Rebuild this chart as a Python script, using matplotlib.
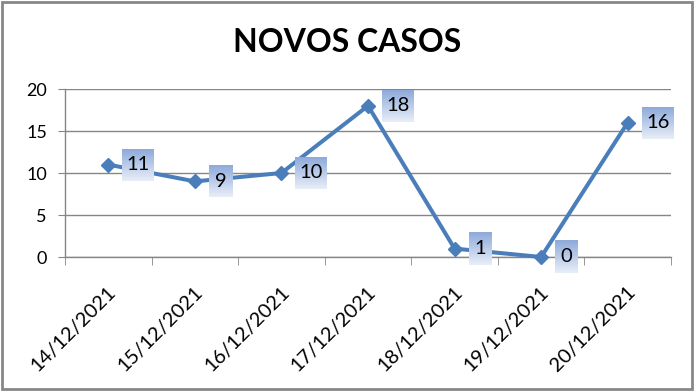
import numpy as np
import matplotlib
matplotlib.use('Agg')
import matplotlib.pyplot as plt
import matplotlib.transforms as mtransforms
from matplotlib.patches import Rectangle

# data
dates = ['14/12/2021', '15/12/2021', '16/12/2021', '17/12/2021',
         '18/12/2021', '19/12/2021', '20/12/2021']
novos_casos = [11, 9, 10, 18, 1, 0, 16]
yticks = [0, 5, 10, 15, 20]

line_color = '#4a7ebb'
grid_color = '#868686'
plt.rcParams['font.family'] = ['Lato', 'DejaVu Sans']

fig = plt.figure(figsize=(6.94, 3.91), dpi=100)
ax = fig.add_axes([65/694, 1 - 257/391, (671 - 65)/694, (257 - 89)/391])

x = np.arange(len(dates))
ax.plot(x, novos_casos, color=line_color, lw=2.9, marker='D', ms=7.5,
        mfc=line_color, mec=line_color, zorder=3, clip_on=False)

ax.set_xlim(-0.5, len(dates) - 0.5)
ax.set_ylim(0, 20)
ax.set_yticks(yticks)
ax.yaxis.grid(True, color=grid_color, lw=1)
ax.set_axisbelow(True)
for s in ['top', 'right']:
    ax.spines[s].set_visible(False)
for s in ['left', 'bottom']:
    ax.spines[s].set_color(grid_color)
    ax.spines[s].set_linewidth(1)

ax.tick_params(axis='y', length=5, color=grid_color, pad=8, labelsize=13)
ax.set_xticks(x)
ax.set_xticks(np.arange(-0.5, len(dates)), minor=True)
ax.tick_params(axis='x', which='major', length=0, pad=23, labelsize=14.5)
ax.tick_params(axis='x', which='minor', length=6, color=grid_color)
ax.set_xticklabels(dates, rotation=45, ha='right', va='center',
                   rotation_mode='anchor')
offset = mtransforms.ScaledTranslation(5/100, 0, fig.dpi_scale_trans)
for lab in ax.get_xticklabels():
    lab.set_transform(lab.get_transform() + offset)

# data labels with gradient boxes
grad = np.linspace(0, 1, 64).reshape(-1, 1)
cmap = matplotlib.colors.LinearSegmentedColormap.from_list(
    'lbl', ['#8eaadb', '#e8eef8'])
inv = ax.transData.inverted()
for xi, v in zip(x, novos_casos):
    px, py = ax.transData.transform((xi, v))
    w = 23 if v < 10 else 32
    x0, y0 = inv.transform((px + 14, py - 16))
    x1, y1 = inv.transform((px + 14 + w, py + 16))
    ax.imshow(grad, extent=(x0, x1, y0, y1), cmap=cmap, aspect='auto',
              origin='upper', zorder=4, clip_on=False)
    ax.text((x0 + x1) / 2, v, str(v), ha='center', va='center',
            fontsize=14.5, color='black', zorder=5)

ax.set_xlim(-0.5, len(dates) - 0.5)
ax.set_ylim(0, 20)

fig.text(0.5, 1 - 42/391, 'NOVOS CASOS', ha='center', va='center',
         fontsize=23, fontweight='bold')

fig.patches.append(Rectangle((2/694, 2/391), 1 - 4/694, 1 - 4/391,
                             transform=fig.transFigure, fill=False,
                             edgecolor='#878787', lw=2))

fig.savefig('out.png', dpi=100)
